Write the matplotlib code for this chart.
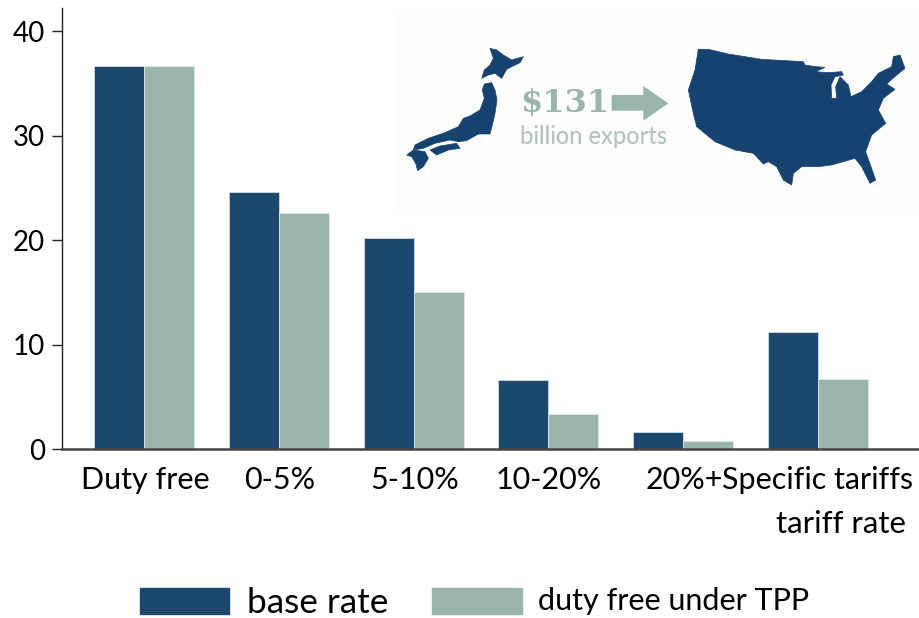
import matplotlib
matplotlib.use("Agg")
import matplotlib.pyplot as plt
from matplotlib.patches import Polygon, Rectangle
import numpy as np

plt.rcParams['font.family'] = ['Lato', 'DejaVu Sans']

categories = ["Duty free", "0-5%", "5-10%", "10-20%", "20%+", "Specific tariffs"]
base_rate = [36.7, 24.6, 20.2, 6.6, 1.7, 11.2]
duty_free = [36.7, 22.6, 15.1, 3.4, 0.8, 6.7]
y_ticks = [0, 10, 20, 30, 40]
DARK = "#1c4870"
LIGHT = "#99b5ae"
W, H = 919, 618

fig = plt.figure(figsize=(W/100, H/100), dpi=100, facecolor="white")
L, R, T, B = 62, 919, 8, 449.3
ax = fig.add_axes([L/W, 1-B/H, (R-L)/W, (B-T)/H])
step = 134.8
ax.set_xlim((L-144)/step, (R-144)/step)
ax.set_ylim(0, (B-T)/10.45)
x = np.arange(len(categories))
bw = 50/step
ax.bar(x-bw/2, base_rate, bw, color=DARK, edgecolor="#cfdbe3", linewidth=0.6)
ax.bar(x+bw/2, duty_free, bw, color=LIGHT, edgecolor="#dfe8e5", linewidth=0.6)
for s in ("top", "right"):
    ax.spines[s].set_visible(False)
ax.spines["left"].set_linewidth(1.0)
ax.spines["left"].set_color("#222222")
ax.spines["bottom"].set_linewidth(1.8)
ax.spines["bottom"].set_color("#444444")
ax.set_yticks(y_ticks)
ax.tick_params(axis="y", length=7, width=1, labelsize=20, pad=5, color="#222222")
ax.set_xticks([])

ov = fig.add_axes([0, 0, 1, 1], facecolor="none")
ov.set_xlim(0, W); ov.set_ylim(H, 0); ov.axis("off")

label_x = [145, 280, 415, 549, 684, 818]
for lx, c in zip(label_x, categories):
    ov.text(lx, 480, c, fontsize=22, ha="center", va="center", color="black")
ov.text(906, 524, "tariff rate", fontsize=22.4, ha="right", va="center", color="black")

ov.add_patch(Rectangle((140, 588), 89, 26, color=DARK))
ov.add_patch(Rectangle((432, 588), 90, 26, color=LIGHT))
ov.text(247, 603, "base rate", fontsize=25.3, ha="left", va="center", color="black")
ov.text(538, 601, "duty free under TPP", fontsize=22, ha="left", va="center", color="black")

def z(pts):
    return [(395 + a/3, 10 + b/3) for a, b in pts]

usa = [(910,118),(940,118),(1000,132),(1100,148),(1225,155),(1230,165),(1262,170),(1290,172),
       (1262,185),(1300,188),(1340,185),(1345,195),(1320,200),(1308,225),(1310,265),(1325,265),
       (1322,230),(1335,200),(1360,225),(1368,260),(1400,245),(1430,215),(1450,190),(1490,170),
       (1495,140),(1515,135),(1530,175),(1505,195),(1475,222),(1500,238),(1465,265),(1450,300),
       (1472,340),(1430,375),(1412,425),(1442,510),(1425,520),(1400,470),(1380,445),(1310,465),
       (1270,470),(1220,470),(1195,490),(1190,525),(1165,510),(1145,470),(1120,455),(1105,462),
       (1075,430),(1020,420),(960,395),(905,350),(895,310),(880,240),(900,180)]
hokkaido = [(285,115),(305,120),(325,135),(350,150),(385,140),(375,158),(350,170),(335,178),
            (320,205),(300,190),(280,195),(260,205),(268,180),(285,165),(295,145)]
honshu = [(268,222),(290,218),(300,240),(306,270),(300,310),(292,345),(285,372),(250,372),
          (215,392),(190,395),(165,390),(120,400),(85,415),(55,420),(60,405),(100,385),
          (150,368),(190,350),(205,325),(225,318),(255,300),(268,265),(262,240)]
kyushu = [(35,435),(55,420),(90,425),(100,445),(85,470),(68,482),(62,460),(50,440)]
shikoku = [(105,420),(135,408),(185,400),(195,415),(160,420),(125,435)]
MAP = "#15426f"
ov.add_patch(Rectangle((395, 10), 524, 200, color="#fdfdfd", lw=0))
for shape in (usa, hokkaido, honshu, kyushu, shikoku):
    ov.add_patch(Polygon(z(shape), closed=True, color=MAP, lw=0.5))
arrow = [(650,255),(745,255),(745,228),(820,280),(745,332),(745,302),(650,302)]
ov.add_patch(Polygon(z(arrow), closed=True, color=LIGHT, lw=0))
ov.text(520, 104, "$131", fontsize=23, family="DejaVu Serif", weight="bold", color=LIGHT,
        ha="left", va="center")
ov.text(520, 137, "billion exports", fontsize=17, color="#b3c4bf", ha="left", va="center",
        weight="medium")

fig.savefig("out.png", dpi=100)
